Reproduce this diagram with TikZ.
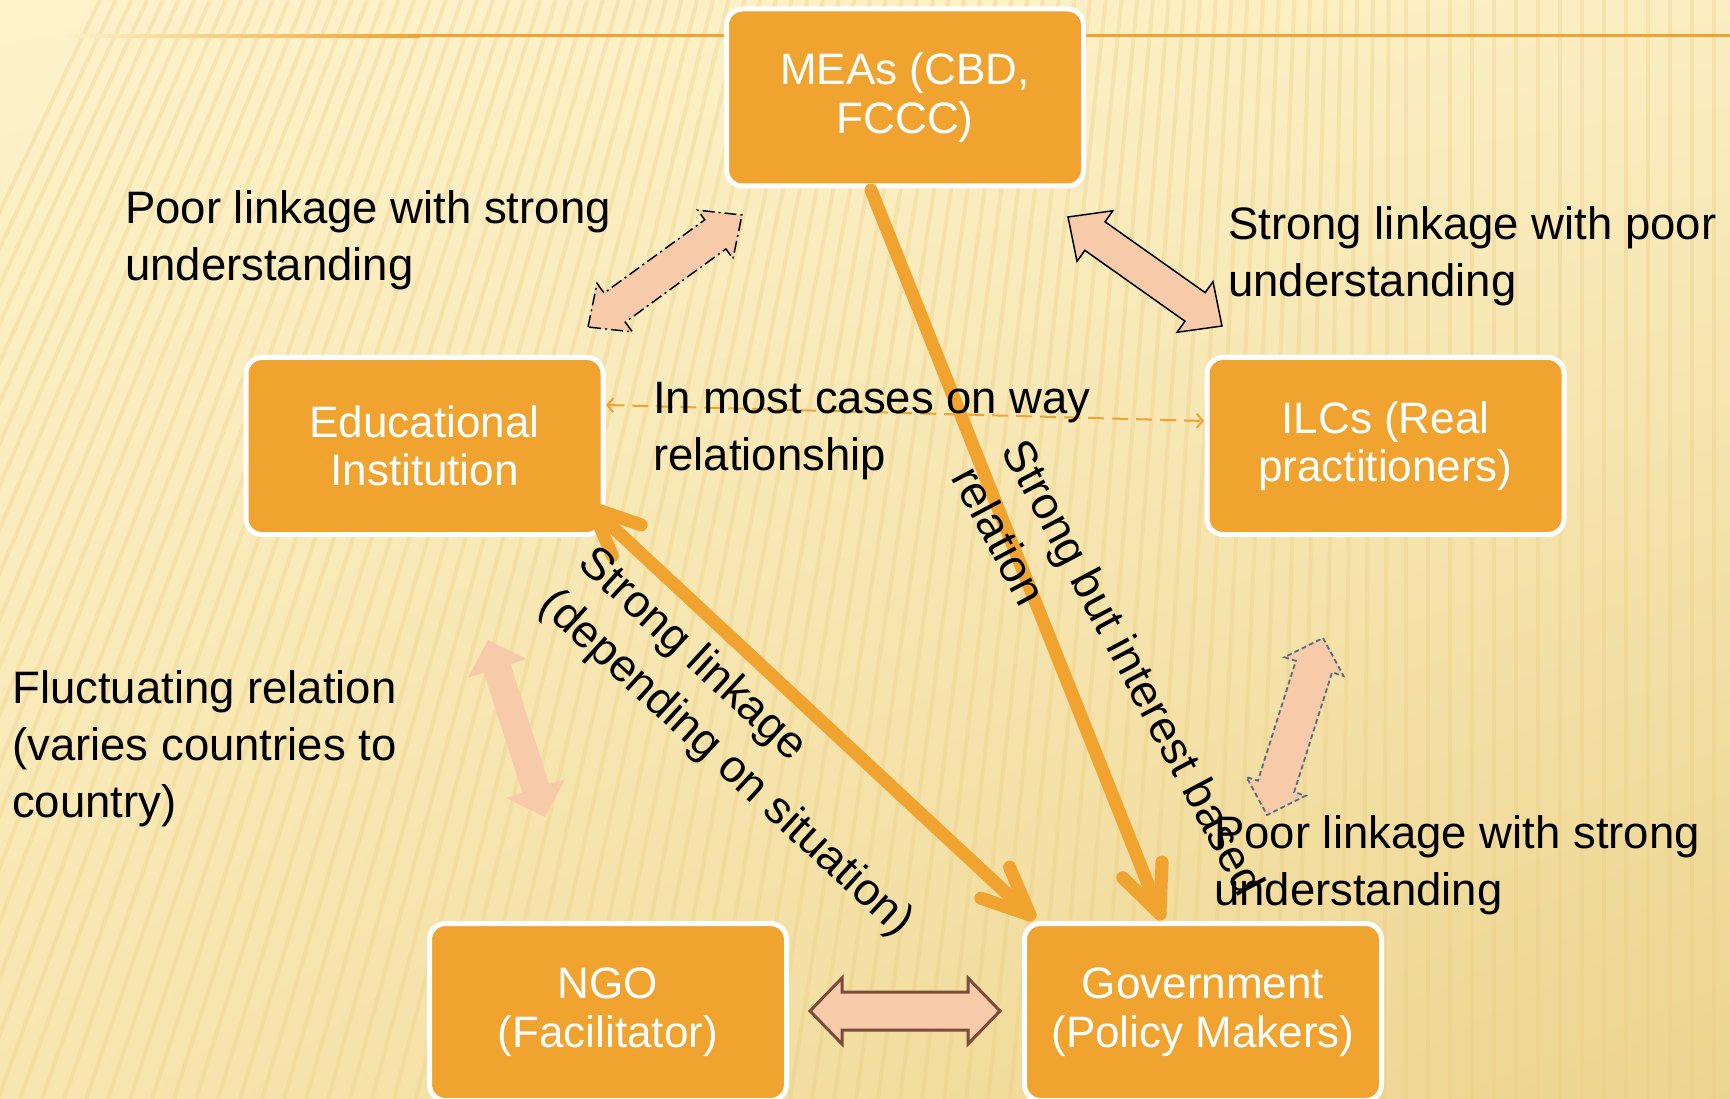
\documentclass[tikz,border=0pt]{standalone}
\usepackage{fontspec}
\setmainfont{Liberation Sans}
\usetikzlibrary{calc,arrows.meta,shadings}
\definecolor{bgTL}{HTML}{FDF2CA}
\definecolor{bgTR}{HTML}{FBEEC2}
\definecolor{bgBL}{HTML}{F8E6B0}
\definecolor{bgBR}{HTML}{EDD48E}
\definecolor{stripec}{HTML}{E9CB7E}
\definecolor{boxor}{HTML}{F0A32F}
\definecolor{peach}{HTML}{F7CBAA}
\definecolor{dashblue}{HTML}{5B6B84}
\definecolor{brownout}{HTML}{7B4B3B}
\newcommand\dblarrow[6]{%
  \path[#1] (#2) -- ($(#2)!#6!(#3)!#5!90:(#3)$) -- ($(#2)!#6!(#3)!#4!90:(#3)$)
    -- ($(#3)!#6!(#2)!#4!-90:(#2)$) -- ($(#3)!#6!(#2)!#5!-90:(#2)$) -- (#3)
    -- ($(#3)!#6!(#2)!#5!90:(#2)$) -- ($(#3)!#6!(#2)!#4!90:(#2)$)
    -- ($(#2)!#6!(#3)!#4!-90:(#3)$) -- ($(#2)!#6!(#3)!#5!-90:(#3)$) -- cycle;}
\begin{document}
\begin{tikzpicture}[x=1pt,y=-1pt,
  box/.style={draw=white, line width=5pt, fill=boxor, rounded corners=16pt,
    minimum width=357pt, minimum height=177pt, inner sep=0pt, text=white,
    align=center, font=\fontsize{44}{48.5}\selectfont},
  lbl/.style={anchor=west, inner sep=0pt, align=left, text=black,
    font=\fontsize{45.5}{57}\selectfont},
  thickor/.style={draw=boxor, line width=13pt, line cap=round, line join=round},
  stripe/.style={draw=stripec, line width=4pt, opacity=0.3}]
\useasboundingbox (0,0) rectangle (1730,1099);
% background
\shade[upper left=bgTL, upper right=bgTR, lower left=bgBL, lower right=bgBR] (0,0) rectangle (1730,1099);
\begin{scope}
\clip (0,0) rectangle (1730,1099);
\foreach \b in {-420,-398,...,1740} {
  \pgfmathsetmacro\tx{\b<1400 ? \b+400*(1-\b/1400) : \b}
  \draw[stripe] (\b,1099) -- (\tx,0);
}
\end{scope}
% header line
\shade[left color=bgTL, right color=boxor] (60,34.5) rectangle (420,37.5);
\fill[boxor] (419,34.5) rectangle (1730,37.5);

% boxes
\node[box] (mea) at (905,97.5) {MEAs (CBD,\\FCCC)};
\node[box] (edu) at (424.5,446) {Educational\\Institution};
\node[box] (ilc) at (1385.5,446) {ILCs (Real\\practitioners)};
\node[box] (ngo) at (608,1012) {NGO\\(Facilitator)};
\node[box] (gov) at (1203,1012) {Government\\(Policy Makers)};

% block arrows
\coordinate (a1s) at (588,327); \coordinate (a1e) at (742,215);
\dblarrow{fill=peach, draw=black, line width=1.5pt, dash pattern=on 12pt off 4pt on 2pt off 4pt}{a1s}{a1e}{18pt}{30pt}{33pt}
\coordinate (a2s) at (1068,217); \coordinate (a2e) at (1222,326);
\dblarrow{fill=peach, draw=black, line width=1.5pt, line join=miter}{a2s}{a2e}{17.5pt}{31pt}{33pt}
\coordinate (a3s) at (488,640); \coordinate (a3e) at (545,817);
\dblarrow{fill=peach}{a3s}{a3e}{14pt}{31pt}{30pt}
\coordinate (a4s) at (1323,638); \coordinate (a4e) at (1267,815);
\dblarrow{fill=peach, draw=dashblue, line width=1.8pt, dash pattern=on 5pt off 3pt}{a4s}{a4e}{19pt}{31pt}{30pt}
\coordinate (a5s) at (810,1011); \coordinate (a5e) at (1000,1011);
\dblarrow{fill=peach, draw=brownout, line width=3pt}{a5s}{a5e}{19pt}{33pt}{32pt}

% dashed one-way line
\coordinate (dl) at (606,405); \coordinate (dr) at (1204,421);
\draw[boxor, line width=2pt, dash pattern=on 16pt off 8pt,
  {Straight Barb[length=6pt,width=14pt]}-{Straight Barb[length=6pt,width=14pt]}] (dl) -- (dr);

% thick arrow MEA -> Gov
\coordinate (ms) at (871,190); \coordinate (mt) at (1160,914);
\draw[thickor] (ms) -- (mt);
\draw[thickor] ($(mt)!52pt!24:(ms)$) -- (mt) -- ($(mt)!52pt!-24:(ms)$);

% thick double arrow Edu <-> Gov
\coordinate (et) at (592,508); \coordinate (gt) at (1030,915);
\draw[thickor] (et) -- (gt);
\draw[thickor] ($(gt)!52pt!24:(et)$) -- (gt) -- ($(gt)!52pt!-24:(et)$);
\draw[thickor] ($(et)!52pt!24:(gt)$) -- (et) -- ($(et)!52pt!-24:(gt)$);

% labels
\node[lbl] (l1) at (125,240) {Poor linkage with strong\\understanding};
\node[lbl] (l2) at (1228,256) {Strong linkage with poor\\understanding};
\node[lbl] (l3) at (653,431) {In most cases on way\\relationship};
\node[lbl] (l4) at (12,749) {Fluctuating relation\\(varies countries to\\country)};
\node[lbl] (l5) at (1214,865) {Poor linkage with strong\\understanding};
\node[lbl, rotate=-42.5] (l6) at (565,578) {Strong linkage\\(depending on situation)};
\node[lbl, rotate=-62] (l7) at (990,456) {Strong but interest based\\relation};
\end{tikzpicture}
\end{document}
